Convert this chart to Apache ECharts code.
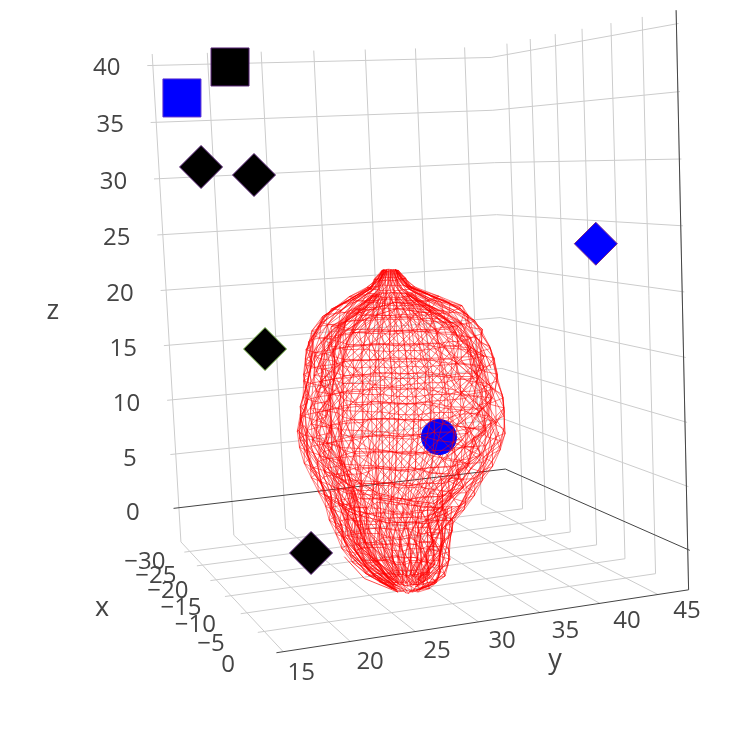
<!DOCTYPE html>
<html><head><meta charset="utf-8"><style>html,body{margin:0;background:#fff}#c{width:740px;height:744px}</style></head><body><div id="c"></div>
<script src="https://cdn.jsdelivr.net/npm/echarts@6/dist/echarts.min.js"></script>
<script>
const xMin=-33.7,xMax=0,yMin=15,yMax=47.7,zMin=-3.2,zMax=41;
const xTicks=[-30,-25,-20,-15,-10,-5,0],yTicks=[15,20,25,30,35,40,45],zTicks=[0,5,10,15,20,25,30,35,40];
const markerX=[-20,-25,-20,-15,-15,-10,-5,-8];
const markerY=[18.52,15.53,15.67,18.71,18.87,20.36,43.15,30.62];
const markerZ=[38.86,36.71,30.94,30.15,16.38,0.82,23.7,9.24];
const markerSymbol=['rect','rect','diamond','diamond','diamond','diamond','diamond','circle'];
const markerColor=['#000','#00f','#000','#000','#000','#000','#00f','#00f'];
const markerEdge=['#5a2478','#5a2fd0','#5a2478','#5a2478','#7ab648','#5a2478','#7b2a8a','#00f'];
const ringZ=[22.2,21.5,20.8,20,19.2,18.3,17.3,16.2,15,13.7,12.4,11,9.7,8.4,7.1,5.9,4.7,3.5,2.4,1.2,0,-1.2,-2.2,-3,-3.6];
const ringCy=[28.6,28.6,28.6,28.8,29.0,28.9,28.8,28.8,28.9,28.9,29,28.9,28.7,28.6,28.4,28.3,28.2,28.1,27.7,27.9,28,28.4,28.7,28.9,28.8];
const ringR=[
[5,5,7,5,4,6,5,6,4,5,6,6,5,4,4,5,6,6,5,4,5,6,5,4,5,6,6,5,4,4,5,6,6,5,4,5],
[10,8,11,11,9,9,11,10,12,10,8,9,11,12,10,9,9,11,10,12,9,8,10,9,11,12,10,8,10,11,12,10,8,10,11,12],
[16,14,18,16,17,15,15,18,16,14,17,16,18,14,16,17,14,18,16,15,14,17,16,18,15,14,16,18,17,14,16,15,18,16,14,17],
[31,28,33,30,29,32,31,34,29,31,33,29,32,31,28,30,33,32,29,31,28,32,31,34,30,29,32,33,29,31,28,32,34,30,29,32],
[46,43,48,47,44,47,46,49,43,46,44,47,49,45,42,46,49,44,46,48,43,47,46,44,46,49,43,47,46,43,49,46,42,45,48,44],
[56,53,58,54,57,58,55,53,57,59,53,56,52,55,58,54,56,53,59,57,52,55,58,57,55,53,58,57,53,56,60,55,52,56,59,53],
[62,59,65,61,60,63,63,65,59,62,65,60,58,62,65,60,63,59,65,62,58,61,64,60,63,59,64,63,60,62,66,61,58,63,65,59],
[67,64,70,66,65,69,68,64,66,70,65,67,63,67,70,64,68,65,70,66,63,65,69,68,66,64,70,68,64,67,71,66,63,68,69,65],
[69,66,72,68,67,70,70,72,66,69,72,67,65,70,72,66,69,67,72,68,65,69,71,67,70,66,72,69,67,69,73,68,65,70,71,66],
[71,68,74,70,69,72,72,74,68,71,74,69,67,72,73,68,71,69,74,70,67,71,73,69,72,68,74,71,68,71,75,70,67,72,73,68],
[73,70,76,71,72,75,74,71,72,76,70,73,69,74,75,70,73,71,76,72,69,71,75,74,72,70,76,74,70,73,77,72,69,74,75,70],
[75,72,78,74,73,76,76,78,72,75,78,73,71,76,77,72,75,73,78,74,71,75,77,73,76,72,78,75,73,75,79,74,71,76,77,72],
[76,73,79,75,74,78,77,73,75,79,73,76,72,77,78,73,76,74,79,75,72,74,78,77,75,73,79,77,73,76,80,75,72,77,78,73],
[74,71,77,73,72,75,75,77,71,74,77,72,70,75,76,71,74,72,77,73,70,74,76,72,75,71,77,74,72,74,78,73,70,75,76,71],
[69,66,72,68,67,71,70,66,68,72,66,69,65,70,71,66,69,67,72,68,65,67,71,70,68,66,72,70,66,69,73,68,65,70,71,66],
[63,60,66,62,61,64,64,66,60,63,66,61,59,64,65,60,63,61,66,62,59,63,65,61,64,60,66,63,61,63,67,62,59,64,65,60],
[57,54,60,56,55,59,58,54,56,60,54,57,53,58,59,54,57,55,60,56,53,55,59,58,56,54,60,58,54,57,61,56,53,58,59,54],
[51,48,54,50,49,52,52,54,48,51,54,49,47,52,53,48,51,49,54,50,47,51,53,49,52,48,54,51,49,51,55,50,47,52,53,48],
[45,42,48,44,43,47,46,42,44,48,42,45,41,46,47,42,45,43,48,44,41,43,47,46,44,42,48,46,42,45,49,44,41,46,47,42],
[42,39,45,41,40,43,43,45,39,42,45,40,38,43,44,39,42,40,45,41,38,42,44,40,43,39,45,42,40,42,46,41,38,43,44,39],
[39,36,42,38,37,41,40,36,38,42,36,39,35,40,41,36,39,37,42,38,35,37,41,40,38,36,42,40,36,39,43,38,35,40,41,36],
[35,32,38,34,33,36,36,38,32,35,38,33,31,36,37,32,35,33,38,34,31,35,37,33,36,32,38,35,33,35,39,34,31,36,37,32],
[29,27,31,28,27,31,30,27,28,31,27,29,26,30,31,27,29,27,31,28,26,27,31,30,28,27,31,30,27,29,32,28,26,30,31,27],
[20,18,22,19,19,21,21,22,18,20,22,19,18,21,22,18,20,19,22,19,18,20,22,19,21,18,22,20,19,20,22,19,18,21,22,18],
[10,8,12,9,9,11,11,12,8,10,12,9,8,11,12,8,10,9,12,9,8,10,12,9,11,8,12,10,9,10,12,9,8,11,12,8]
];
const innerZ=[20.2,19,17.8,16.6,15.4,14.1,12.8,11.5,10.2,8.9,7.6,6.3,5,3.7,2.4,1,-0.4,-1.8,-3];
const innerR=[
[15,13,17,14,16,12,15,17,13,16,14,12,17,15,13,16,14,17,12,15,16,13,17,14,12,16,15,13,17,14],
[30,27,33,29,26,32,30,28,34,27,31,29,26,33,30,27,32,28,34,26,30,33,27,29,32,26,31,34,28,30],
[46,43,49,44,47,50,42,46,49,44,41,48,46,43,50,45,42,48,47,43,50,44,46,41,49,47,43,50,45,42],
[55,51,58,54,50,57,56,52,59,50,55,58,53,49,56,59,52,54,50,58,55,51,57,53,59,50,54,57,52,56],
[60,64,57,61,66,58,55,63,60,57,65,59,55,62,66,57,60,64,56,59,65,61,55,58,63,66,57,60,54,62],
[62,58,66,63,57,60,67,61,56,64,68,58,60,65,57,62,67,59,56,63,60,68,58,62,65,57,61,66,59,56],
[64,68,60,65,70,62,59,66,71,60,63,69,58,64,70,62,60,67,71,59,64,68,61,58,66,70,60,65,69,62],
[66,62,70,65,60,68,72,63,59,67,71,64,61,69,73,60,66,70,62,58,68,72,64,60,67,71,63,59,70,65],
[66,71,62,67,73,64,60,69,72,61,65,71,60,67,74,62,64,70,72,60,66,71,63,59,68,73,62,66,71,61],
[63,59,67,62,57,65,69,60,56,64,68,61,58,66,70,57,63,67,59,55,65,69,61,57,64,68,60,56,67,62],
[58,62,54,59,64,56,53,60,65,54,57,63,52,58,64,56,54,61,65,53,58,62,55,52,60,64,54,58,63,56],
[52,48,56,51,46,54,58,49,45,53,57,50,47,55,59,46,52,56,48,44,54,58,50,46,53,57,49,45,56,51],
[46,50,42,47,52,44,41,48,53,42,45,51,40,46,52,44,42,49,53,41,46,50,43,40,48,52,42,46,51,44],
[40,36,44,39,35,42,45,37,34,41,44,38,35,43,46,34,40,43,36,33,42,45,38,34,41,44,37,33,43,39],
[36,39,33,37,41,34,32,38,42,33,35,40,31,36,41,34,32,39,42,31,36,39,33,30,38,41,33,36,40,34],
[33,30,36,32,29,35,37,31,28,34,36,31,29,35,38,28,33,36,30,27,34,37,31,28,34,36,30,28,35,32],
[30,33,27,31,34,28,26,32,35,27,29,33,26,30,34,28,27,32,35,26,30,33,28,26,31,34,27,30,33,28],
[23,21,25,22,20,24,26,21,19,23,25,22,20,24,26,20,23,25,21,19,24,26,22,20,23,25,21,19,24,22],
[12,14,10,12,15,11,10,13,15,10,12,14,9,12,15,11,10,13,15,9,12,14,11,9,13,15,10,12,14,11]
];
const innerCy=[28.7,28.8,28.9,28.9,29,29.1,29.2,29.1,29,28.8,28.6,28.5,28.4,28.2,28,28,28.2,28.6,28.8];
const foldY=[
[21.6,22.3,23.7,25.9,28.9,31.9,34.4,36.1,37],
[22.1,22.8,24.3,26.4,29,31.5,33.9,35.5,36.5],
[37.5,36.1,34,32.1,29.5,26.5,24,21.9,20.4],
[37.1,35.7,33.6,31.6,29.4,26.8,24.4,22.4,20.9],
[22.2,24.3,27.3,30.7,33.1],
[22.6,24.6,27.5,30.4,32.7],
[33.1,32.7,32.1,30.7],
[32.7,32.3,31.6,30.2],
[23.7,25.3,28.1],
[24.1,25.7,28.3]
];
const foldZ=[
[14.8,16.6,17.9,19,19.6,19.1,17.7,15.9,13.6],
[14.6,16.2,17.5,18.5,19.1,18.6,17.2,15.5,13.3],
[8.3,5.8,3.9,2.6,3.1,4,5.6,7.6,10.2],
[8.6,6.2,4.3,3,3.5,4.4,6,8,10.5],
[4.9,3.4,2.3,2,2.5],
[4.5,3,1.9,1.6,2.1],
[2.6,0,-2,-3.7],
[2.4,-0.2,-2.1,-3.5],
[-0.4,-2.4,-3.9],
[-0.2,-2.1,-3.5]
];
const ringCx=-12,ringDepth=1.5,innerDepth=1.25;
const calib=[[xMin,15,zMin,182,542],[0,15,zMin,278,653],[0,yMax,zMin,689,589],[xMin,yMax,zMin,507,502],[xMin,15,40,153,65],[xMin,yMax,40,490,57],[0,yMax,40,678,24],[xMin,yMax,0,505,467],[0,yMax,0,688,549],[xMin,15,0,180,508],[0,20,zMin,353,640],[0,45,zMin,658,594],[-30,yMax,zMin,523,510],[-30,yMax,40,507,54],[xMin,45,zMin,480,505],[0,yMax,zMax,676,12]];
function solve(A,b){const n=b.length;for(let i=0;i<n;i++){let m=i;for(let r=i+1;r<n;r++)if(Math.abs(A[r][i])>Math.abs(A[m][i]))m=r;[A[i],A[m]]=[A[m],A[i]];[b[i],b[m]]=[b[m],b[i]];for(let r=i+1;r<n;r++){const f=A[r][i]/A[i][i];for(let c=i;c<n;c++)A[r][c]-=f*A[i][c];b[r]-=f*b[i];}}const x=Array(n).fill(0);for(let i=n-1;i>=0;i--){let s=b[i];for(let c=i+1;c<n;c++)s-=A[i][c]*x[c];x[i]=s/A[i][i];}return x;}
const ATA=Array.from({length:11},()=>Array(11).fill(0)),ATb=Array(11).fill(0);
calib.forEach(([X,Y,Z,u,v])=>{[[X,Y,Z,1,0,0,0,0,-u*X,-u*Y,-u*Z,u],[0,0,0,0,X,Y,Z,1,-v*X,-v*Y,-v*Z,v]].forEach(r=>{for(let i=0;i<11;i++){ATb[i]+=r[i]*r[11];for(let j=0;j<11;j++)ATA[i][j]+=r[i]*r[j];}});});
const P=solve(ATA,ATb);
function pr(X,Y,Z){const w=P[8]*X+P[9]*Y+P[10]*Z+1;return [(P[0]*X+P[1]*Y+P[2]*Z+P[3])/w,(P[4]*X+P[5]*Y+P[6]*Z+P[7])/w];}
const chart=echarts.init(document.getElementById('c'));
const seg=(p,q)=>({coords:[pr(...p),pr(...q)]});
const grid=[],zero=[];
yTicks.forEach(y=>{grid.push(seg([xMin,y,zMin],[xMin,y,zMax]));grid.push(seg([xMin,y,zMin],[0,y,zMin]));});
xTicks.forEach(x=>{grid.push(seg([x,yMax,zMin],[x,yMax,zMax]));if(x!==0)grid.push(seg([x,14.5,zMin],[x,yMax,zMin]));});
zTicks.forEach(z=>{if(z!==0){grid.push(seg([xMin,14.5,z],[xMin,yMax,z]));grid.push(seg([xMin,yMax,z],[0.3,yMax,z]));}});
zero.push(seg([xMin,14.5,0],[xMin,yMax,0]),seg([xMin,yMax,0],[0.3,yMax,0]),seg([0,14.5,zMin],[0,yMax,zMin]),seg([0,yMax,zMin],[0,yMax,zMax]));
function surface(rows,cys,zs,depth,phase){const vs=rows.map((row,k)=>row.map((r,i)=>{const t=(i+phase)*2*Math.PI/row.length;return pr(ringCx+depth*r/10*Math.cos(t),cys[k]+r/10*Math.sin(t),zs[k]);}));const out=[];
vs.forEach((row,k)=>row.forEach((p,i)=>{const n=(i+1)%row.length;out.push({coords:[p,row[n]]});if(k+1<vs.length){out.push({coords:[p,vs[k+1][i]]});out.push({coords:[p,vs[k+1][n]]});}}));return out;}
const outerMesh=surface(ringR,ringCy,ringZ,ringDepth,0),innerMesh=surface(innerR,innerCy,innerZ,innerDepth,0.5);
const folds=[];foldY.forEach((ys,s)=>ys.forEach((y,i)=>{if(i+1<ys.length)folds.push({coords:[pr(ringCx,y,foldZ[s][i]),pr(ringCx,ys[i+1],foldZ[s][i+1])]});}));
const font={fontFamily:'Open Sans',color:'#444'};
const lab=(text,p,off,size)=>({value:pr(...p),name:text,label:{show:true,position:'inside',formatter:'{b}',offset:off,...font,fontSize:size||24}});
const minus=v=>String(v).replace('-','\u2212');
const labels=[...zTicks.map(z=>lab(String(z),[xMin,15,z],[-46,3+(40-z)/20])),
 ...xTicks.map(x=>lab(minus(x),[x,15,zMin],[-55-x/3,13+x/15])),
 ...yTicks.map(y=>lab(String(y),[0,y,zMin],[18+(y-15)*0.37,21-(y-15)*0.13])),
 lab('x',[-17,15,zMin],[-123,19],27),lab('y',[0,31,zMin],[64,40],27),lab('z',[xMin,15,19],[-114,10],27)];
const markerData=markerX.map((x,i)=>({value:pr(x,markerY[i],markerZ[i]),symbol:markerSymbol[i],symbolSize:markerSymbol[i]==='rect'?38:markerSymbol[i]==='circle'?35:43,itemStyle:{color:markerColor[i],borderColor:markerEdge[i],borderWidth:1,opacity:1}}));
chart.setOption({animation:false,grid:{left:0,right:0,top:0,bottom:0},xAxis:{type:'value',min:0,max:740,show:false},yAxis:{type:'value',min:0,max:744,inverse:true,show:false},
series:[
{type:'lines',coordinateSystem:'cartesian2d',data:grid,lineStyle:{color:'#ccc',width:1,opacity:1},silent:true,z:1},
{type:'lines',coordinateSystem:'cartesian2d',data:zero,lineStyle:{color:'#444',width:1,opacity:1},silent:true,z:2},
{type:'lines',coordinateSystem:'cartesian2d',data:innerMesh,lineStyle:{color:'#f00',width:0.7,opacity:0.75},silent:true,z:3,progressive:0},
{type:'scatter',data:markerData,silent:true,z:4},
{type:'lines',coordinateSystem:'cartesian2d',data:outerMesh,lineStyle:{color:'#f00',width:0.7,opacity:0.75},silent:true,z:5,progressive:0},
{type:'lines',coordinateSystem:'cartesian2d',data:folds,lineStyle:{color:'#f00',width:0.9,opacity:0.8},silent:true,z:5},
{type:'scatter',data:labels,symbolSize:1,itemStyle:{color:'rgba(0,0,0,0)',opacity:1},silent:true,z:6}
]});
</script></body></html>
